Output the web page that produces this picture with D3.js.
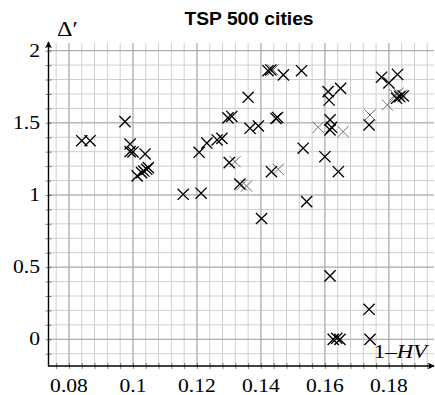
<!DOCTYPE html>
<html>
<head>
<meta charset="utf-8">
<script src="https://cdn.jsdelivr.net/npm/d3@7"></script>
<style>
  html, body { margin: 0; padding: 0; background: #fff; }
  svg { display: block; }
</style>
</head>
<body>
<svg id="chart" width="435" height="395"></svg>
<script>
// Main run: [1-HV, Δ′] per solution
const runA = [
  [0.0840, 1.376], [0.0866, 1.376], [0.0975, 1.508], [0.0991, 1.353], [0.0991, 1.300],
  [0.1000, 1.298], [0.1038, 1.284], [0.1013, 1.132], [0.1027, 1.155], [0.1034, 1.166],
  [0.1043, 1.178], [0.1048, 1.189], [0.1157, 1.005], [0.1213, 1.012], [0.1207, 1.296],
  [0.1231, 1.360], [0.1263, 1.381], [0.1278, 1.392], [0.1297, 1.534], [0.1309, 1.544],
  [0.1360, 1.677], [0.1366, 1.462], [0.1392, 1.478], [0.1447, 1.530], [0.1452, 1.537],
  [0.1422, 1.861], [0.1431, 1.866], [0.1470, 1.832], [0.1527, 1.861], [0.1301, 1.224],
  [0.1334, 1.076], [0.1433, 1.161], [0.1532, 1.324], [0.1543, 0.954], [0.1402, 0.837],
  [0.1616, 1.520], [0.1621, 1.469], [0.1616, 1.451], [0.1600, 1.265], [0.1642, 1.161],
  [0.1610, 1.716], [0.1613, 1.658], [0.1649, 1.739], [0.1738, 1.485], [0.1777, 1.816],
  [0.1827, 1.835], [0.1800, 1.776], [0.1824, 1.670], [0.1834, 1.681], [0.1845, 1.686],
  [0.1616, 0.439], [0.1738, 0.208], [0.1626, 0.000], [0.1637, 0.007], [0.1647, 0.000],
  [0.1741, 0.000]
];
// Second run, drawn lighter
const runB = [
  [0.1319, 1.231], [0.1340, 1.069], [0.1355, 1.062], [0.1454, 1.178], [0.1438, 1.866],
  [0.1579, 1.469], [0.1657, 1.439], [0.1741, 1.554], [0.1795, 1.624], [0.1819, 1.693],
  [0.1829, 1.705], [0.1840, 1.693]
];
const xTicks = [0.08, 0.10, 0.12, 0.14, 0.16, 0.18];
const xTickLabels = ["0.08", "0.1", "0.12", "0.14", "0.16", "0.18"];
const yTicks = [0, 0.5, 1, 1.5, 2];
const yTickLabels = ["0", "0.5", "1", "1.5", "2"];
const title = "TSP 500 cities";

const svg = d3.select("#chart");
const plotLeft = 48.5, plotRight = 434, plotTop = 43, plotBottom = 366;

const x = d3.scaleLinear().domain([0.0736, 0.1941]).range([plotLeft, plotRight]);
const y = d3.scaleLinear().domain([-0.185, 2.053]).range([plotBottom, plotTop]);

const serif = "'Liberation Serif', 'Times New Roman', serif";
const sx = 1.2; // horizontal stretch of the text face

function label(g, tx, ty, str, anchor, size, opts = {}) {
  const t = g.append("text")
    .attr("transform", `translate(${tx},${ty}) scale(${opts.sx || sx},1)`)
    .attr("text-anchor", anchor)
    .attr("font-family", opts.family || serif)
    .attr("font-size", size)
    .attr("font-weight", opts.weight || "normal")
    .attr("fill", "#000");
  if (opts.parts) {
    opts.parts.forEach(p => t.append("tspan").attr("font-style", p.italic ? "italic" : "normal").text(p.text));
  } else {
    t.text(str);
  }
  return t;
}

// grid
const minorX = d3.range(0.076, 0.1935, 0.004);
const minorY = d3.range(-0.1, 2.0001, 0.1);
const grid = svg.append("g");
grid.selectAll("line.mx").data(minorX).join("line")
  .attr("x1", d => x(d)).attr("x2", d => x(d)).attr("y1", plotTop).attr("y2", plotBottom)
  .attr("stroke", "#cfcfcf").attr("stroke-width", 1);
grid.selectAll("line.my").data(minorY).join("line")
  .attr("y1", d => y(d)).attr("y2", d => y(d)).attr("x1", plotLeft).attr("x2", plotRight)
  .attr("stroke", "#cfcfcf").attr("stroke-width", 1);
grid.selectAll("line.Mx").data(xTicks).join("line")
  .attr("x1", d => x(d)).attr("x2", d => x(d)).attr("y1", plotTop).attr("y2", plotBottom)
  .attr("stroke", "#9a9a9a").attr("stroke-width", 0.8);
grid.selectAll("line.My").data(yTicks).join("line")
  .attr("y1", d => y(d)).attr("y2", d => y(d)).attr("x1", plotLeft).attr("x2", plotRight)
  .attr("stroke", "#9a9a9a").attr("stroke-width", 0.8);

// axes with small ticks at every grid step
const xAxis = d3.axisBottom(x).tickValues(minorX).tickSize(3).tickFormat("");
const yAxis = d3.axisLeft(y).tickValues(minorY).tickSize(3).tickFormat("");
const gx = svg.append("g").attr("transform", `translate(0,${plotBottom})`).call(xAxis);
const gy = svg.append("g").attr("transform", `translate(${plotLeft},0)`).call(yAxis);
[gx, gy].forEach(g => {
  g.select(".domain").remove();
  g.selectAll(".tick line").attr("stroke", "#333").attr("stroke-width", 0.6);
});
gx.selectAll(".tick line").attr("y1", -3);
gy.selectAll(".tick line").attr("x1", 3);

// axis lines with arrowheads
const defs = svg.append("defs");
defs.append("marker").attr("id", "arrow").attr("viewBox", "0 0 10 10")
  .attr("refX", 9).attr("refY", 5).attr("markerWidth", 7).attr("markerHeight", 7)
  .attr("markerUnits", "userSpaceOnUse").attr("orient", "auto")
  .append("path").attr("d", "M0,0 Q4,5 0,10 L10,5 Z").attr("fill", "#000");
svg.append("line").attr("x1", plotLeft - 0.5).attr("x2", plotRight).attr("y1", plotBottom).attr("y2", plotBottom)
  .attr("stroke", "#000").attr("stroke-width", 1.4).attr("marker-end", "url(#arrow)");
svg.append("line").attr("x1", plotLeft).attr("x2", plotLeft).attr("y1", plotBottom + 0.5).attr("y2", plotTop - 1)
  .attr("stroke", "#000").attr("stroke-width", 1.4).attr("marker-end", "url(#arrow)");

// tick labels
const tl = svg.append("g");
xTicks.forEach((v, i) => label(tl, x(v), 392, xTickLabels[i], "middle", 18));
yTicks.forEach((v, i) => label(tl, 40, y(v) + 6, yTickLabels[i], "end", 18));

// axis titles
label(svg, 57, 36, "Δ′", "start", 20);
label(svg, 427, 358, null, "end", 19, { parts: [{ text: "1–" }, { text: "HV", italic: true }] });

// title
label(svg, 249, 25, title, "middle", 18, { family: "'Liberation Sans', Arial, sans-serif", weight: "bold", sx: 1.07 });

// cross markers
function crosses(data, color, width) {
  const s = 5.6;
  svg.append("g").selectAll("path").data(data).join("path")
    .attr("d", d => {
      const cx = x(d[0]), cy = y(d[1]);
      return `M${cx - s},${cy - s}L${cx + s},${cy + s}M${cx - s},${cy + s}L${cx + s},${cy - s}`;
    })
    .attr("fill", "none").attr("stroke", color).attr("stroke-width", width);
}
crosses(runB, "#6e6e6e", 1.0);
crosses(runA, "#000", 1.35);
</script>
</body>
</html>
